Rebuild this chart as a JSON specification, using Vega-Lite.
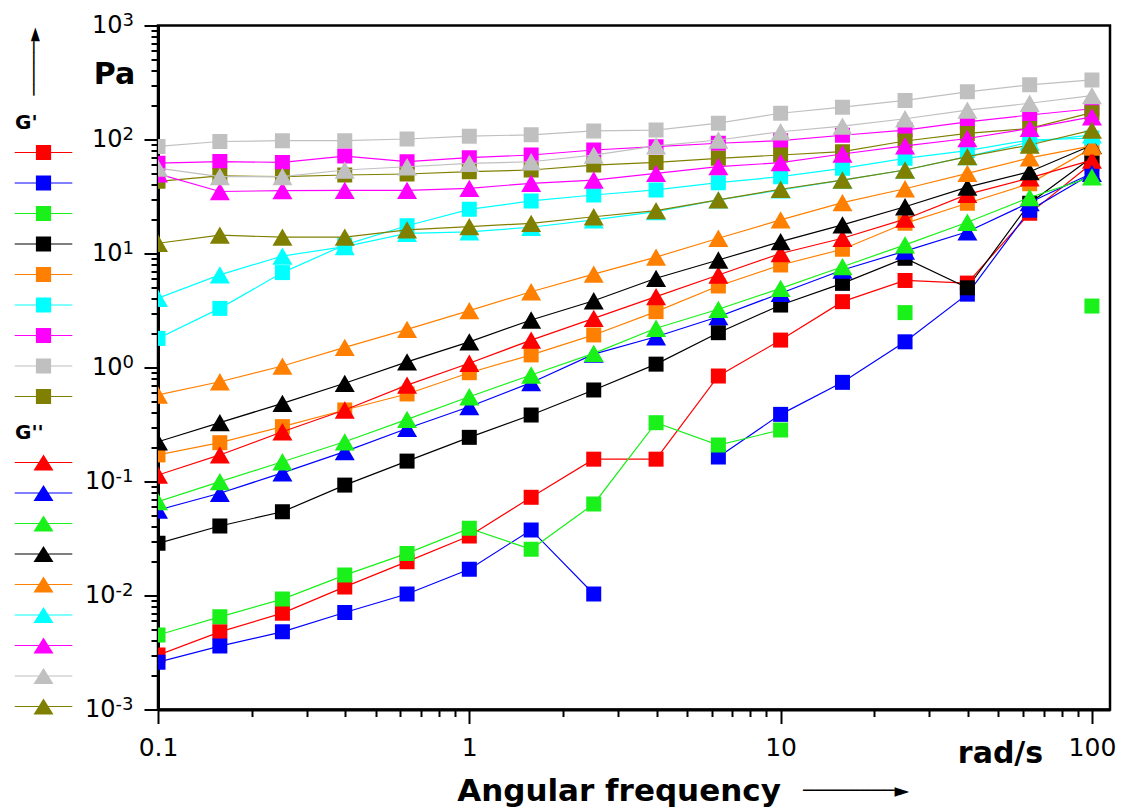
{
  "$schema": "https://vega.github.io/schema/vega-lite/v6.json",
  "width": 952,
  "height": 684,
  "autosize": {"type": "none"},
  "padding": {"left": 158, "top": 25.5, "right": 18, "bottom": 102.5},
  "background": "white",
  "config": {
    "font": "DejaVu Sans",
    "view": {"stroke": "black", "strokeWidth": 2.5},
    "axis": {"grid": false}
  },
  "title": {
    "text": "────────►",
    "orient": "bottom",
    "anchor": "start",
    "frame": "group",
    "dx": 645,
    "dy": -15,
    "offset": 0,
    "font": "DejaVu Sans",
    "fontSize": 19,
    "fontWeight": "normal",
    "color": "black",
    "baseline": "middle"
  },
  "datasets": {
    "gp": [
      {"w": 0.1, "v": 0.0030, "s": "red", "seg": 1},
      {"w": 0.158, "v": 0.0048, "s": "red", "seg": 1},
      {"w": 0.251, "v": 0.0070, "s": "red", "seg": 1},
      {"w": 0.398, "v": 0.0119, "s": "red", "seg": 1},
      {"w": 0.631, "v": 0.0198, "s": "red", "seg": 1},
      {"w": 1, "v": 0.0333, "s": "red", "seg": 1},
      {"w": 1.58, "v": 0.0727, "s": "red", "seg": 1},
      {"w": 2.51, "v": 0.157, "s": "red", "seg": 1},
      {"w": 3.98, "v": 0.157, "s": "red", "seg": 1},
      {"w": 6.31, "v": 0.842, "s": "red", "seg": 1},
      {"w": 10, "v": 1.74, "s": "red", "seg": 1},
      {"w": 15.8, "v": 3.78, "s": "red", "seg": 1},
      {"w": 25.1, "v": 5.8, "s": "red", "seg": 1},
      {"w": 39.8, "v": 5.5, "s": "red", "seg": 1},
      {"w": 63.1, "v": 22.5, "s": "red", "seg": 1},
      {"w": 100, "v": 62, "s": "red", "seg": 1},
      {"w": 0.1, "v": 0.0026, "s": "blue", "seg": 1},
      {"w": 0.158, "v": 0.0036, "s": "blue", "seg": 1},
      {"w": 0.251, "v": 0.0048, "s": "blue", "seg": 1},
      {"w": 0.398, "v": 0.0071, "s": "blue", "seg": 1},
      {"w": 0.631, "v": 0.0103, "s": "blue", "seg": 1},
      {"w": 1, "v": 0.017, "s": "blue", "seg": 1},
      {"w": 1.58, "v": 0.0376, "s": "blue", "seg": 1},
      {"w": 2.51, "v": 0.0103, "s": "blue", "seg": 1},
      {"w": 6.31, "v": 0.164, "s": "blue", "seg": 2},
      {"w": 10, "v": 0.388, "s": "blue", "seg": 2},
      {"w": 15.8, "v": 0.741, "s": "blue", "seg": 2},
      {"w": 25.1, "v": 1.68, "s": "blue", "seg": 2},
      {"w": 39.8, "v": 4.4, "s": "blue", "seg": 2},
      {"w": 63.1, "v": 24, "s": "blue", "seg": 2},
      {"w": 100, "v": 50, "s": "blue", "seg": 2},
      {"w": 0.1, "v": 0.0045, "s": "green", "seg": 1},
      {"w": 0.158, "v": 0.0065, "s": "green", "seg": 1},
      {"w": 0.251, "v": 0.0093, "s": "green", "seg": 1},
      {"w": 0.398, "v": 0.0151, "s": "green", "seg": 1},
      {"w": 0.631, "v": 0.0234, "s": "green", "seg": 1},
      {"w": 1, "v": 0.0388, "s": "green", "seg": 1},
      {"w": 1.58, "v": 0.0254, "s": "green", "seg": 1},
      {"w": 2.51, "v": 0.0635, "s": "green", "seg": 1},
      {"w": 3.98, "v": 0.328, "s": "green", "seg": 1},
      {"w": 6.31, "v": 0.209, "s": "green", "seg": 1},
      {"w": 10, "v": 0.283, "s": "green", "seg": 1},
      {"w": 25.1, "v": 3.03, "s": "green", "seg": 2},
      {"w": 100, "v": 3.46, "s": "green", "seg": 3},
      {"w": 0.1, "v": 0.0287, "s": "black", "seg": 1},
      {"w": 0.158, "v": 0.0407, "s": "black", "seg": 1},
      {"w": 0.251, "v": 0.0543, "s": "black", "seg": 1},
      {"w": 0.398, "v": 0.093, "s": "black", "seg": 1},
      {"w": 0.631, "v": 0.151, "s": "black", "seg": 1},
      {"w": 1, "v": 0.244, "s": "black", "seg": 1},
      {"w": 1.58, "v": 0.383, "s": "black", "seg": 1},
      {"w": 2.51, "v": 0.635, "s": "black", "seg": 1},
      {"w": 3.98, "v": 1.07, "s": "black", "seg": 1},
      {"w": 6.31, "v": 2.02, "s": "black", "seg": 1},
      {"w": 10, "v": 3.53, "s": "black", "seg": 1},
      {"w": 15.8, "v": 5.47, "s": "black", "seg": 1},
      {"w": 25.1, "v": 9.08, "s": "black", "seg": 1},
      {"w": 39.8, "v": 5.0, "s": "black", "seg": 1},
      {"w": 63.1, "v": 27.6, "s": "black", "seg": 1},
      {"w": 100, "v": 70, "s": "black", "seg": 1},
      {"w": 0.1, "v": 0.171, "s": "orange", "seg": 1},
      {"w": 0.158, "v": 0.219, "s": "orange", "seg": 1},
      {"w": 0.251, "v": 0.303, "s": "orange", "seg": 1},
      {"w": 0.398, "v": 0.424, "s": "orange", "seg": 1},
      {"w": 0.631, "v": 0.586, "s": "orange", "seg": 1},
      {"w": 1, "v": 0.90, "s": "orange", "seg": 1},
      {"w": 1.58, "v": 1.29, "s": "orange", "seg": 1},
      {"w": 2.51, "v": 1.93, "s": "orange", "seg": 1},
      {"w": 3.98, "v": 3.09, "s": "orange", "seg": 1},
      {"w": 6.31, "v": 5.19, "s": "orange", "seg": 1},
      {"w": 10, "v": 7.93, "s": "orange", "seg": 1},
      {"w": 15.8, "v": 10.9, "s": "orange", "seg": 1},
      {"w": 25.1, "v": 18.4, "s": "orange", "seg": 1},
      {"w": 39.8, "v": 27.6, "s": "orange", "seg": 1},
      {"w": 63.1, "v": 41, "s": "orange", "seg": 1},
      {"w": 100, "v": 84, "s": "orange", "seg": 1},
      {"w": 0.1, "v": 1.8, "s": "cyan", "seg": 1},
      {"w": 0.158, "v": 3.3, "s": "cyan", "seg": 1},
      {"w": 0.251, "v": 6.8, "s": "cyan", "seg": 1},
      {"w": 0.398, "v": 11.9, "s": "cyan", "seg": 1},
      {"w": 0.631, "v": 17.5, "s": "cyan", "seg": 1},
      {"w": 1, "v": 24.4, "s": "cyan", "seg": 1},
      {"w": 1.58, "v": 28.9, "s": "cyan", "seg": 1},
      {"w": 2.51, "v": 32.6, "s": "cyan", "seg": 1},
      {"w": 3.98, "v": 36.1, "s": "cyan", "seg": 1},
      {"w": 6.31, "v": 41.8, "s": "cyan", "seg": 1},
      {"w": 10, "v": 47.2, "s": "cyan", "seg": 1},
      {"w": 15.8, "v": 55.9, "s": "cyan", "seg": 1},
      {"w": 25.1, "v": 68.4, "s": "cyan", "seg": 1},
      {"w": 39.8, "v": 80, "s": "cyan", "seg": 1},
      {"w": 63.1, "v": 99, "s": "cyan", "seg": 1},
      {"w": 100, "v": 103, "s": "cyan", "seg": 1},
      {"w": 0.1, "v": 62, "s": "magenta", "seg": 1},
      {"w": 0.158, "v": 64, "s": "magenta", "seg": 1},
      {"w": 0.251, "v": 63, "s": "magenta", "seg": 1},
      {"w": 0.398, "v": 71.6, "s": "magenta", "seg": 1},
      {"w": 0.631, "v": 63.9, "s": "magenta", "seg": 1},
      {"w": 1, "v": 69.3, "s": "magenta", "seg": 1},
      {"w": 1.58, "v": 73.1, "s": "magenta", "seg": 1},
      {"w": 2.51, "v": 80.9, "s": "magenta", "seg": 1},
      {"w": 3.98, "v": 86.5, "s": "magenta", "seg": 1},
      {"w": 6.31, "v": 92.7, "s": "magenta", "seg": 1},
      {"w": 10, "v": 97.7, "s": "magenta", "seg": 1},
      {"w": 15.8, "v": 109, "s": "magenta", "seg": 1},
      {"w": 25.1, "v": 121, "s": "magenta", "seg": 1},
      {"w": 39.8, "v": 143, "s": "magenta", "seg": 1},
      {"w": 63.1, "v": 164, "s": "magenta", "seg": 1},
      {"w": 100, "v": 186, "s": "magenta", "seg": 1},
      {"w": 0.1, "v": 87, "s": "grey", "seg": 1},
      {"w": 0.158, "v": 96, "s": "grey", "seg": 1},
      {"w": 0.251, "v": 97.6, "s": "grey", "seg": 1},
      {"w": 0.398, "v": 97.6, "s": "grey", "seg": 1},
      {"w": 0.631, "v": 101, "s": "grey", "seg": 1},
      {"w": 1, "v": 107, "s": "grey", "seg": 1},
      {"w": 1.58, "v": 110, "s": "grey", "seg": 1},
      {"w": 2.51, "v": 119, "s": "grey", "seg": 1},
      {"w": 3.98, "v": 121, "s": "grey", "seg": 1},
      {"w": 6.31, "v": 139, "s": "grey", "seg": 1},
      {"w": 10, "v": 170, "s": "grey", "seg": 1},
      {"w": 15.8, "v": 192, "s": "grey", "seg": 1},
      {"w": 25.1, "v": 220, "s": "grey", "seg": 1},
      {"w": 39.8, "v": 262, "s": "grey", "seg": 1},
      {"w": 63.1, "v": 302, "s": "grey", "seg": 1},
      {"w": 100, "v": 333, "s": "grey", "seg": 1},
      {"w": 0.1, "v": 43, "s": "olive", "seg": 1},
      {"w": 0.158, "v": 48, "s": "olive", "seg": 1},
      {"w": 0.251, "v": 47.2, "s": "olive", "seg": 1},
      {"w": 0.398, "v": 48.8, "s": "olive", "seg": 1},
      {"w": 0.631, "v": 49.8, "s": "olive", "seg": 1},
      {"w": 1, "v": 52.2, "s": "olive", "seg": 1},
      {"w": 1.58, "v": 54, "s": "olive", "seg": 1},
      {"w": 2.51, "v": 59.7, "s": "olive", "seg": 1},
      {"w": 3.98, "v": 63, "s": "olive", "seg": 1},
      {"w": 6.31, "v": 68.4, "s": "olive", "seg": 1},
      {"w": 10, "v": 73.1, "s": "olive", "seg": 1},
      {"w": 15.8, "v": 78.2, "s": "olive", "seg": 1},
      {"w": 25.1, "v": 97, "s": "olive", "seg": 1},
      {"w": 39.8, "v": 113, "s": "olive", "seg": 1},
      {"w": 63.1, "v": 125, "s": "olive", "seg": 1},
      {"w": 100, "v": 172, "s": "olive", "seg": 1}
    ],
    "gpp": [
      {"w": 0.1, "v": 0.114, "s": "red", "seg": 1},
      {"w": 0.158, "v": 0.171, "s": "red", "seg": 1},
      {"w": 0.251, "v": 0.273, "s": "red", "seg": 1},
      {"w": 0.398, "v": 0.424, "s": "red", "seg": 1},
      {"w": 0.631, "v": 0.70, "s": "red", "seg": 1},
      {"w": 1, "v": 1.09, "s": "red", "seg": 1},
      {"w": 1.58, "v": 1.74, "s": "red", "seg": 1},
      {"w": 2.51, "v": 2.7, "s": "red", "seg": 1},
      {"w": 3.98, "v": 4.18, "s": "red", "seg": 1},
      {"w": 6.31, "v": 6.48, "s": "red", "seg": 1},
      {"w": 10, "v": 10, "s": "red", "seg": 1},
      {"w": 15.8, "v": 13.6, "s": "red", "seg": 1},
      {"w": 25.1, "v": 20, "s": "red", "seg": 1},
      {"w": 39.8, "v": 33, "s": "red", "seg": 1},
      {"w": 63.1, "v": 46, "s": "red", "seg": 1},
      {"w": 100, "v": 66, "s": "red", "seg": 1},
      {"w": 0.1, "v": 0.0562, "s": "blue", "seg": 1},
      {"w": 0.158, "v": 0.0788, "s": "blue", "seg": 1},
      {"w": 0.251, "v": 0.119, "s": "blue", "seg": 1},
      {"w": 0.398, "v": 0.183, "s": "blue", "seg": 1},
      {"w": 0.631, "v": 0.292, "s": "blue", "seg": 1},
      {"w": 1, "v": 0.453, "s": "blue", "seg": 1},
      {"w": 1.58, "v": 0.736, "s": "blue", "seg": 1},
      {"w": 2.51, "v": 1.31, "s": "blue", "seg": 1},
      {"w": 3.98, "v": 1.86, "s": "blue", "seg": 1},
      {"w": 6.31, "v": 2.79, "s": "blue", "seg": 1},
      {"w": 10, "v": 4.48, "s": "blue", "seg": 1},
      {"w": 15.8, "v": 7.17, "s": "blue", "seg": 1},
      {"w": 25.1, "v": 10.5, "s": "blue", "seg": 1},
      {"w": 39.8, "v": 15.5, "s": "blue", "seg": 1},
      {"w": 63.1, "v": 28, "s": "blue", "seg": 1},
      {"w": 100, "v": 50.5, "s": "blue", "seg": 1},
      {"w": 0.1, "v": 0.0665, "s": "green", "seg": 1},
      {"w": 0.158, "v": 0.0997, "s": "green", "seg": 1},
      {"w": 0.251, "v": 0.149, "s": "green", "seg": 1},
      {"w": 0.398, "v": 0.223, "s": "green", "seg": 1},
      {"w": 0.631, "v": 0.351, "s": "green", "seg": 1},
      {"w": 1, "v": 0.554, "s": "green", "seg": 1},
      {"w": 1.58, "v": 0.86, "s": "green", "seg": 1},
      {"w": 2.51, "v": 1.33, "s": "green", "seg": 1},
      {"w": 3.98, "v": 2.21, "s": "green", "seg": 1},
      {"w": 6.31, "v": 3.24, "s": "green", "seg": 1},
      {"w": 10, "v": 4.95, "s": "green", "seg": 1},
      {"w": 15.8, "v": 7.66, "s": "green", "seg": 1},
      {"w": 25.1, "v": 11.9, "s": "green", "seg": 1},
      {"w": 39.8, "v": 18.8, "s": "green", "seg": 1},
      {"w": 63.1, "v": 31, "s": "green", "seg": 1},
      {"w": 100, "v": 47, "s": "green", "seg": 1},
      {"w": 0.1, "v": 0.223, "s": "black", "seg": 1},
      {"w": 0.158, "v": 0.328, "s": "black", "seg": 1},
      {"w": 0.251, "v": 0.485, "s": "black", "seg": 1},
      {"w": 0.398, "v": 0.727, "s": "black", "seg": 1},
      {"w": 0.631, "v": 1.12, "s": "black", "seg": 1},
      {"w": 1, "v": 1.68, "s": "black", "seg": 1},
      {"w": 1.58, "v": 2.61, "s": "black", "seg": 1},
      {"w": 2.51, "v": 3.85, "s": "black", "seg": 1},
      {"w": 3.98, "v": 6.06, "s": "black", "seg": 1},
      {"w": 6.31, "v": 8.77, "s": "black", "seg": 1},
      {"w": 10, "v": 12.7, "s": "black", "seg": 1},
      {"w": 15.8, "v": 17.8, "s": "black", "seg": 1},
      {"w": 25.1, "v": 25.7, "s": "black", "seg": 1},
      {"w": 39.8, "v": 38.2, "s": "black", "seg": 1},
      {"w": 63.1, "v": 52.2, "s": "black", "seg": 1},
      {"w": 100, "v": 89, "s": "black", "seg": 1},
      {"w": 0.1, "v": 0.574, "s": "orange", "seg": 1},
      {"w": 0.158, "v": 0.75, "s": "orange", "seg": 1},
      {"w": 0.251, "v": 1.03, "s": "orange", "seg": 1},
      {"w": 0.398, "v": 1.5, "s": "orange", "seg": 1},
      {"w": 0.631, "v": 2.16, "s": "orange", "seg": 1},
      {"w": 1, "v": 3.15, "s": "orange", "seg": 1},
      {"w": 1.58, "v": 4.62, "s": "orange", "seg": 1},
      {"w": 2.51, "v": 6.6, "s": "orange", "seg": 1},
      {"w": 3.98, "v": 9.3, "s": "orange", "seg": 1},
      {"w": 6.31, "v": 13.6, "s": "orange", "seg": 1},
      {"w": 10, "v": 19.7, "s": "orange", "seg": 1},
      {"w": 15.8, "v": 27.9, "s": "orange", "seg": 1},
      {"w": 25.1, "v": 37, "s": "orange", "seg": 1},
      {"w": 39.8, "v": 50.5, "s": "orange", "seg": 1},
      {"w": 63.1, "v": 69, "s": "orange", "seg": 1},
      {"w": 100, "v": 88, "s": "orange", "seg": 1},
      {"w": 0.1, "v": 4.05, "s": "cyan", "seg": 1},
      {"w": 0.158, "v": 6.5, "s": "cyan", "seg": 1},
      {"w": 0.251, "v": 9.5, "s": "cyan", "seg": 1},
      {"w": 0.398, "v": 11.5, "s": "cyan", "seg": 1},
      {"w": 0.631, "v": 15, "s": "cyan", "seg": 1},
      {"w": 1, "v": 15.5, "s": "cyan", "seg": 1},
      {"w": 1.58, "v": 17, "s": "cyan", "seg": 1},
      {"w": 2.51, "v": 19.7, "s": "cyan", "seg": 1},
      {"w": 3.98, "v": 23.3, "s": "cyan", "seg": 1},
      {"w": 6.31, "v": 29.5, "s": "cyan", "seg": 1},
      {"w": 10, "v": 36.1, "s": "cyan", "seg": 1},
      {"w": 15.8, "v": 44.1, "s": "cyan", "seg": 1},
      {"w": 25.1, "v": 54, "s": "cyan", "seg": 1},
      {"w": 39.8, "v": 70.7, "s": "cyan", "seg": 1},
      {"w": 63.1, "v": 95, "s": "cyan", "seg": 1},
      {"w": 100, "v": 110, "s": "cyan", "seg": 1},
      {"w": 0.1, "v": 50, "s": "magenta", "seg": 1},
      {"w": 0.158, "v": 35, "s": "magenta", "seg": 1},
      {"w": 0.251, "v": 35.6, "s": "magenta", "seg": 1},
      {"w": 0.398, "v": 35.8, "s": "magenta", "seg": 1},
      {"w": 0.631, "v": 35.8, "s": "magenta", "seg": 1},
      {"w": 1, "v": 37.3, "s": "magenta", "seg": 1},
      {"w": 1.58, "v": 41.3, "s": "magenta", "seg": 1},
      {"w": 2.51, "v": 44.1, "s": "magenta", "seg": 1},
      {"w": 3.98, "v": 50.5, "s": "magenta", "seg": 1},
      {"w": 6.31, "v": 57.8, "s": "magenta", "seg": 1},
      {"w": 10, "v": 62.6, "s": "magenta", "seg": 1},
      {"w": 15.8, "v": 74.6, "s": "magenta", "seg": 1},
      {"w": 25.1, "v": 88, "s": "magenta", "seg": 1},
      {"w": 39.8, "v": 102, "s": "magenta", "seg": 1},
      {"w": 63.1, "v": 125, "s": "magenta", "seg": 1},
      {"w": 100, "v": 158, "s": "magenta", "seg": 1},
      {"w": 0.1, "v": 56, "s": "grey", "seg": 1},
      {"w": 0.158, "v": 47.2, "s": "grey", "seg": 1},
      {"w": 0.251, "v": 47.2, "s": "grey", "seg": 1},
      {"w": 0.398, "v": 54, "s": "grey", "seg": 1},
      {"w": 0.631, "v": 57.7, "s": "grey", "seg": 1},
      {"w": 1, "v": 61.8, "s": "grey", "seg": 1},
      {"w": 1.58, "v": 63.8, "s": "grey", "seg": 1},
      {"w": 2.51, "v": 73, "s": "grey", "seg": 1},
      {"w": 3.98, "v": 88, "s": "grey", "seg": 1},
      {"w": 6.31, "v": 99, "s": "grey", "seg": 1},
      {"w": 10, "v": 117, "s": "grey", "seg": 1},
      {"w": 15.8, "v": 131, "s": "grey", "seg": 1},
      {"w": 25.1, "v": 152, "s": "grey", "seg": 1},
      {"w": 39.8, "v": 181, "s": "grey", "seg": 1},
      {"w": 63.1, "v": 208, "s": "grey", "seg": 1},
      {"w": 100, "v": 243, "s": "grey", "seg": 1},
      {"w": 0.1, "v": 12.3, "s": "olive", "seg": 1},
      {"w": 0.158, "v": 14.5, "s": "olive", "seg": 1},
      {"w": 0.251, "v": 13.9, "s": "olive", "seg": 1},
      {"w": 0.398, "v": 13.9, "s": "olive", "seg": 1},
      {"w": 0.631, "v": 16.1, "s": "olive", "seg": 1},
      {"w": 1, "v": 17.2, "s": "olive", "seg": 1},
      {"w": 1.58, "v": 18.4, "s": "olive", "seg": 1},
      {"w": 2.51, "v": 21, "s": "olive", "seg": 1},
      {"w": 3.98, "v": 23.8, "s": "olive", "seg": 1},
      {"w": 6.31, "v": 29.5, "s": "olive", "seg": 1},
      {"w": 10, "v": 36.6, "s": "olive", "seg": 1},
      {"w": 15.8, "v": 44.1, "s": "olive", "seg": 1},
      {"w": 25.1, "v": 54, "s": "olive", "seg": 1},
      {"w": 39.8, "v": 70.7, "s": "olive", "seg": 1},
      {"w": 63.1, "v": 89.5, "s": "olive", "seg": 1},
      {"w": 100, "v": 121, "s": "olive", "seg": 1}
    ]
  },
  "layer": [
    {
      "data": {"name": "gp"},
      "mark": {"type": "line", "strokeWidth": 1.2, "clip": true},
      "encoding": {
        "x": {
          "field": "w", "type": "quantitative",
          "scale": {"type": "log", "domain": [0.1, 114.3], "nice": false},
          "axis": {
            "values": [0.1, 1, 10, 100],
            "labelExpr": "datum.value==0.1?'0.1':datum.value==1?'1':datum.value==10?'10':'100'",
            "labelFont": "DejaVu Sans", "labelFontSize": 25, "labelColor": "black",
            "labelPadding": 12, "labelOverlap": false, "labelFlush": false, "labelBound": false,
            "tickSize": 14, "tickWidth": 2, "tickColor": "black",
            "domainWidth": 3, "domainColor": "black",
            "title": "Angular frequency",
            "titleFont": "DejaVu Sans", "titleFontSize": 31, "titleFontWeight": "bold", "titleColor": "black",
            "titleX": 460.5, "titleY": 90.5, "titleAlign": "center", "titleBaseline": "alphabetic", "titleAngle": 0
          }
        },
        "y": {
          "field": "v", "type": "quantitative",
          "scale": {"type": "log", "domain": [0.001, 1000], "nice": false},
          "axis": {
            "values": [0.001, 0.01, 0.1, 1, 10, 100, 1000],
            "labelExpr": "'10'",
            "labelFont": "DejaVu Sans", "labelFontSize": 24, "labelColor": "black",
            "labelPadding": {"condition": {"test": "datum.value < 0.5", "value": 29}, "value": 22},
            "labelOverlap": false, "labelFlush": false, "labelBound": false, "labelBaseline": "middle",
            "tickSize": 14, "tickWidth": 2, "tickColor": "black",
            "domainWidth": 3, "domainColor": "black",
            "title": "Pa",
            "titleFont": "DejaVu Sans", "titleFontSize": 30, "titleFontWeight": "bold", "titleColor": "black",
            "titleAngle": 0, "titleX": -44, "titleY": 57.5, "titleAlign": "center", "titleBaseline": "alphabetic"
          }
        },
        "detail": {"field": "seg", "type": "nominal"},
        "color": {
          "field": "s", "type": "nominal", "legend": null,
          "scale": {
            "domain": ["red","blue","green","black","orange","cyan","magenta","grey","olive"],
            "range": ["#FF0000","#0000FF","#1AF01A","#000000","#FF8000","#00FFFF","#FF00FF","#C0C0C0","#808000"]
          }
        }
      }
    },
    {
      "data": {"name": "gp"},
      "mark": {"type": "point", "shape": "square", "size": 225, "filled": true, "opacity": 1, "strokeWidth": 0, "clip": true},
      "encoding": {
        "x": {
          "field": "w", "type": "quantitative",
          "scale": {"type": "log", "domain": [0.1, 114.3], "nice": false},
          "axis": {
            "orient": "bottom",
            "values": [0.2,0.3,0.4,0.5,0.6,0.7,0.8,0.9,2,3,4,5,6,7,8,9,20,30,40,50,60,70,80,90],
            "labels": false, "domain": false,
            "tickSize": 7, "tickWidth": 2, "tickColor": "black",
            "title": "rad/s",
            "titleFont": "DejaVu Sans", "titleFontSize": 30, "titleFontWeight": "bold", "titleColor": "black",
            "titleX": 842, "titleY": 52.5, "titleAlign": "center", "titleBaseline": "alphabetic", "titleAngle": 0
          }
        },
        "y": {
          "field": "v", "type": "quantitative",
          "scale": {"type": "log", "domain": [0.001, 1000], "nice": false},
          "axis": {
            "orient": "left",
            "values": [0.002,0.003,0.004,0.005,0.006,0.007,0.008,0.009,0.02,0.03,0.04,0.05,0.06,0.07,0.08,0.09,0.2,0.3,0.4,0.5,0.6,0.7,0.8,0.9,2,3,4,5,6,7,8,9,20,30,40,50,60,70,80,90,200,300,400,500,600,700,800,900],
            "labels": false, "domain": false,
            "tickSize": 7, "tickWidth": 2, "tickColor": "black",
            "title": "─────►",
            "titleFont": "DejaVu Sans", "titleFontSize": 18, "titleFontWeight": "normal", "titleColor": "black",
            "titleAngle": 270, "titleX": -123.7, "titleY": 35.5, "titleAlign": "center", "titleBaseline": "middle"
          }
        },
        "color": {
          "field": "s", "type": "nominal",
          "scale": {
            "domain": ["red","blue","green","black","orange","cyan","magenta","grey","olive"],
            "range": ["#FF0000","#0000FF","#1AF01A","#000000","#FF8000","#00FFFF","#FF00FF","#C0C0C0","#808000"]
          },
          "legend": {
            "orient": "none", "legendX": -143, "legendY": 87.5, "padding": 0,
            "title": "G'", "titleFont": "DejaVu Sans", "titleFontSize": 20, "titleFontWeight": "bold", "titleColor": "black",
            "titlePadding": 11.5, "titleAnchor": "start",
            "symbolType": "M-3.6,-0.07H3.6V0.07H-3.6Z M-0.95,-0.95H0.95V0.95H-0.95Z",
            "symbolSize": 256, "symbolStrokeWidth": 0, "symbolOffset": 20.5, "symbolOpacity": 1,
            "labelExpr": "''", "labelFontSize": 8, "rowPadding": 14.5
          }
        }
      }
    },
    {
      "data": {"name": "gpp"},
      "mark": {"type": "line", "strokeWidth": 1.2, "clip": true},
      "encoding": {
        "x": {
          "field": "w", "type": "quantitative",
          "scale": {"type": "log", "domain": [0.1, 114.3], "nice": false},
          "axis": null
        },
        "y": {
          "field": "v", "type": "quantitative",
          "scale": {"type": "log", "domain": [0.001, 1000], "nice": false},
          "axis": {
            "orient": "left",
            "values": [0.001, 0.01, 0.1, 1, 10, 100, 1000],
            "labelExpr": "datum.value==1000?'3':datum.value==100?'2':datum.value==10?'1':datum.value==1?'0':datum.value==0.1?'-1':datum.value==0.01?'-2':'-3'",
            "labelFont": "DejaVu Sans", "labelFontSize": 18, "labelColor": "black",
            "labelAlign": "left", "labelBaseline": "middle", "labelOffset": -5,
            "labelPadding": {"condition": {"test": "datum.value < 0.5", "value": 43}, "value": 36},
            "labelOverlap": false, "labelFlush": false, "labelBound": false,
            "ticks": false, "tickSize": 0, "domain": false, "title": null
          }
        },
        "detail": {"field": "seg", "type": "nominal"},
        "color": {
          "field": "s", "type": "nominal", "legend": null,
          "scale": {
            "domain": ["red","blue","green","black","orange","cyan","magenta","grey","olive"],
            "range": ["#FF0000","#0000FF","#1AF01A","#000000","#FF8000","#00FFFF","#FF00FF","#C0C0C0","#808000"]
          }
        }
      }
    },
    {
      "data": {"name": "gpp"},
      "mark": {"type": "point", "shape": "triangle-up", "size": 400, "filled": true, "opacity": 1, "strokeWidth": 0, "clip": true},
      "encoding": {
        "x": {
          "field": "w", "type": "quantitative",
          "scale": {"type": "log", "domain": [0.1, 114.3], "nice": false},
          "axis": null
        },
        "y": {
          "field": "v", "type": "quantitative",
          "scale": {"type": "log", "domain": [0.001, 1000], "nice": false},
          "axis": null
        },
        "color": {
          "field": "s", "type": "nominal",
          "scale": {
            "domain": ["red","blue","green","black","orange","cyan","magenta","grey","olive"],
            "range": ["#FF0000","#0000FF","#1AF01A","#000000","#FF8000","#00FFFF","#FF00FF","#C0C0C0","#808000"]
          },
          "legend": {
            "orient": "none", "legendX": -143, "legendY": 397.5, "padding": 0,
            "title": "G''", "titleFont": "DejaVu Sans", "titleFontSize": 20, "titleFontWeight": "bold", "titleColor": "black",
            "titlePadding": 11.5, "titleAnchor": "start",
            "symbolType": "M-3.6,-0.07H3.6V0.07H-3.6Z M0,-1L1.25,1L-1.25,1Z",
            "symbolSize": 256, "symbolStrokeWidth": 0, "symbolOffset": 20.5, "symbolOpacity": 1,
            "labelExpr": "''", "labelFontSize": 8, "rowPadding": 14.5
          }
        }
      }
    }
  ],
  "resolve": {
    "scale": {"color": "independent"},
    "axis": {"x": "independent", "y": "independent"}
  }
}
